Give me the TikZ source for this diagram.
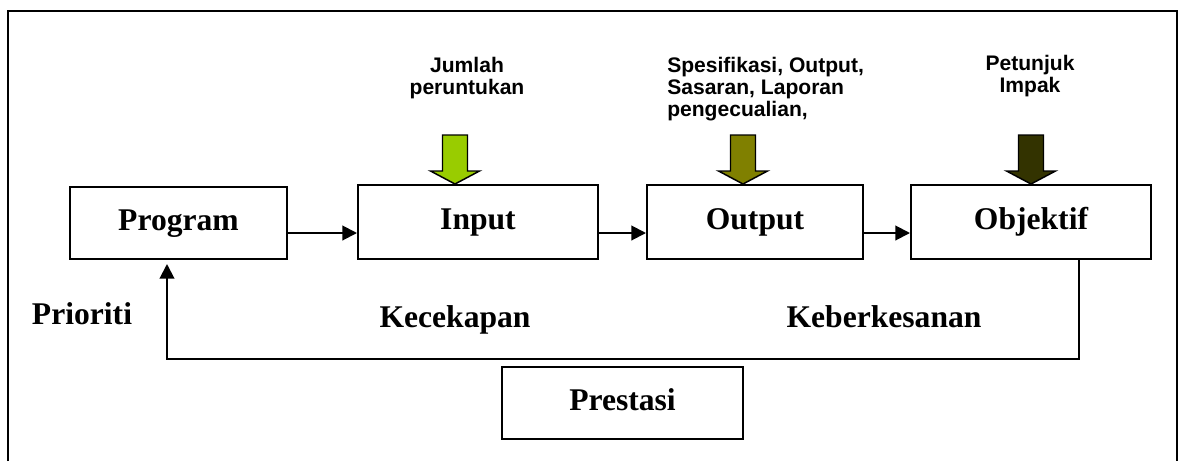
\documentclass[tikz,border=0pt]{standalone}
\usepackage{fontspec}
\setmainfont{Liberation Serif}
\newfontfamily\arialfont{Liberation Sans}
\usetikzlibrary{arrows.meta,calc}
\definecolor{arrgreen}{HTML}{99CC00}
\definecolor{arrolive}{HTML}{808000}
\definecolor{arrdark}{HTML}{333300}
\begin{document}
\begin{tikzpicture}[x=0.75pt,y=-0.75pt,
  box/.style={draw, line width=1.5pt, rectangle, inner sep=0pt,
    font=\fontsize{23.7}{26}\selectfont\bfseries, text height=16pt, text depth=4.9pt},
  biglabel/.style={anchor=base, inner sep=0pt, font=\fontsize{23.7}{26}\selectfont\bfseries},
  smalllabel/.style={anchor=north, inner sep=0pt, font=\arialfont\fontsize{15.8}{16.5}\selectfont\bfseries},
  conn/.style={line width=1.5pt, -{Triangle[length=11pt,width=11pt]}},
  fbline/.style={line width=1.2pt},
  blockarrow/.style={draw=black, line width=1.1pt, line join=miter}
]
\useasboundingbox (0,0) rectangle (1179,461);
% outer frame (open at bottom)
\draw[line width=2.2pt] (8,461) -- (8,11) -- (1177,11) -- (1177,461);

% boxes
\node[box, minimum width=162.75pt, minimum height=54pt] (prog) at (178.5,223) {Program};
\node[box, minimum width=180pt, minimum height=55.5pt] (inp) at (478,222) {Input};
\node[box, minimum width=162pt, minimum height=55.5pt] (out) at (755,222) {Output};
\node[box, minimum width=180pt, minimum height=55.5pt] (obj) at (1031,222) {Objektif};
\node[box, minimum width=180.75pt, minimum height=54pt] (pres) at (622.5,403) {Prestasi};

% connectors
\draw[conn] (prog.east |- 0,233) -- (inp.west |- 0,233);
\draw[conn] (inp.east |- 0,233) -- (out.west |- 0,233);
\draw[conn] (out.east |- 0,233) -- (obj.west |- 0,233);
\coordinate (fbtop) at ($(obj.south)+(48,0)$);
\coordinate (fbend) at ($(prog.south)+(-11.5,4)$);
\draw[fbline] (fbtop) -- ++(0,99) -| ($(fbend)+(0,10)$);
\draw[conn] ($(fbend)+(0,12)$) -- (fbend);

% labels
\node[biglabel] (prio) at (82,324) {Prioriti};
\node[biglabel] (kece) at (455,327) {Kecekapan};
\node[biglabel] (kebe) at (884,327) {Keberkesanan};

% small labels
\node[smalllabel, align=center] (jumlah) at (467,57) {Jumlah\\peruntukan};
\node[smalllabel, align=left, anchor=north west] (spes) at (667,57) {Spesifikasi, Output,\\Sasaran, Laporan\\pengecualian,};
\node[smalllabel, align=center] (petun) at (1030,55) {Petunjuk\\Impak};

% block arrows
\foreach \cx/\col in {455/arrgreen, 743/arrolive, 1031/arrdark}{
  \draw[blockarrow, fill=\col] (\cx-12.5,135) -- (\cx+12.5,135) -- (\cx+12.5,171) -- (\cx+24.5,171)
    -- (\cx,184) -- (\cx-24.5,171) -- (\cx-12.5,171) -- cycle;
}
\end{tikzpicture}
\end{document}
